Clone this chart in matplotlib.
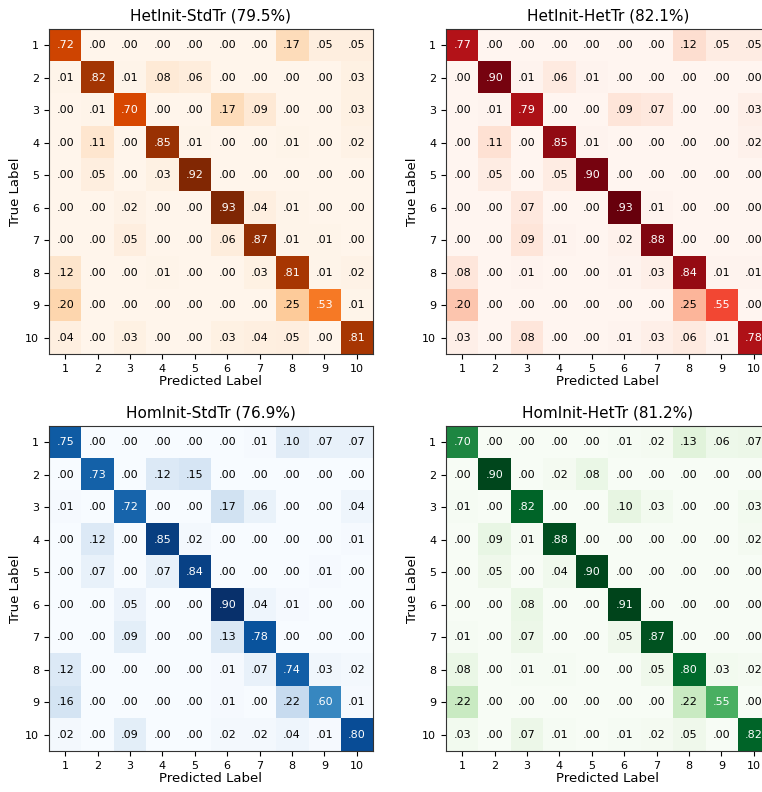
import numpy as np
import matplotlib
matplotlib.use("Agg")
import matplotlib.pyplot as plt

# class labels
classes = [str(i) for i in range(1, 11)]

# panel titles
titles = ["HetInit-StdTr (79.5%)", "HetInit-HetTr (82.1%)",
          "HomInit-StdTr (76.9%)", "HomInit-HetTr (81.2%)"]
cmaps = ["Oranges", "Reds", "Blues", "Greens"]

# normalised confusion matrices (rows = true, cols = predicted)
het_std = [
    [.72, .00, .00, .00, .00, .00, .00, .17, .05, .05],
    [.01, .82, .01, .08, .06, .00, .00, .00, .00, .03],
    [.00, .01, .70, .00, .00, .17, .09, .00, .00, .03],
    [.00, .11, .00, .85, .01, .00, .00, .01, .00, .02],
    [.00, .05, .00, .03, .92, .00, .00, .00, .00, .00],
    [.00, .00, .02, .00, .00, .93, .04, .01, .00, .00],
    [.00, .00, .05, .00, .00, .06, .87, .01, .01, .00],
    [.12, .00, .00, .01, .00, .00, .03, .81, .01, .02],
    [.20, .00, .00, .00, .00, .00, .00, .25, .53, .01],
    [.04, .00, .03, .00, .00, .03, .04, .05, .00, .81],
]
het_het = [
    [.77, .00, .00, .00, .00, .00, .00, .12, .05, .05],
    [.00, .90, .01, .06, .01, .00, .00, .00, .00, .00],
    [.00, .01, .79, .00, .00, .09, .07, .00, .00, .03],
    [.00, .11, .00, .85, .01, .00, .00, .00, .00, .02],
    [.00, .05, .00, .05, .90, .00, .00, .00, .00, .00],
    [.00, .00, .07, .00, .00, .93, .01, .00, .00, .00],
    [.00, .00, .09, .01, .00, .02, .88, .00, .00, .00],
    [.08, .00, .01, .00, .00, .01, .03, .84, .01, .01],
    [.20, .00, .00, .00, .00, .00, .00, .25, .55, .00],
    [.03, .00, .08, .00, .00, .01, .03, .06, .01, .78],
]
hom_std = [
    [.75, .00, .00, .00, .00, .00, .01, .10, .07, .07],
    [.00, .73, .00, .12, .15, .00, .00, .00, .00, .00],
    [.01, .00, .72, .00, .00, .17, .06, .00, .00, .04],
    [.00, .12, .00, .85, .02, .00, .00, .00, .00, .01],
    [.00, .07, .00, .07, .84, .00, .00, .00, .01, .00],
    [.00, .00, .05, .00, .00, .90, .04, .01, .00, .00],
    [.00, .00, .09, .00, .00, .13, .78, .00, .00, .00],
    [.12, .00, .00, .00, .00, .01, .07, .74, .03, .02],
    [.16, .00, .00, .00, .00, .01, .00, .22, .60, .01],
    [.02, .00, .09, .00, .00, .02, .02, .04, .01, .80],
]
hom_het = [
    [.70, .00, .00, .00, .00, .01, .02, .13, .06, .07],
    [.00, .90, .00, .02, .08, .00, .00, .00, .00, .00],
    [.01, .00, .82, .00, .00, .10, .03, .00, .00, .03],
    [.00, .09, .01, .88, .00, .00, .00, .00, .00, .02],
    [.00, .05, .00, .04, .90, .00, .00, .00, .00, .00],
    [.00, .00, .08, .00, .00, .91, .00, .00, .00, .00],
    [.01, .00, .07, .00, .00, .05, .87, .00, .00, .00],
    [.08, .00, .01, .01, .00, .00, .05, .80, .03, .02],
    [.22, .00, .00, .00, .00, .00, .00, .22, .55, .00],
    [.03, .00, .07, .01, .00, .01, .02, .05, .00, .82],
]
matrices = [het_std, het_het, hom_std, hom_het]

fig = plt.figure(figsize=(7.62, 7.92), dpi=100)
# axes positions in figure fractions (right column runs off the edge, as in the source)
positions = [
    [0.0643, 0.553, 0.4252, 0.4104],
    [0.5853, 0.553, 0.4252, 0.4104],
    [0.0643, 0.0518, 0.4252, 0.4104],
    [0.5853, 0.0518, 0.4252, 0.4104],
]

for pos, cm, title, cmap in zip(positions, matrices, titles, cmaps):
    cm = np.array(cm)
    ax = fig.add_axes(pos)
    ax.imshow(cm, interpolation="nearest", cmap=cmap, aspect="auto")
    ax.set_title(title, fontsize=11)
    ax.set_xticks(np.arange(len(classes)))
    ax.set_yticks(np.arange(len(classes)))
    ax.set_xticklabels(classes, fontsize=8)
    ax.set_yticklabels(classes, fontsize=8)
    ax.set_xlabel("Predicted Label", fontsize=9.5, labelpad=1)
    ax.set_ylabel("True Label", fontsize=9.5, labelpad=2)
    thresh = cm.max() / 2.0
    for i in range(cm.shape[0]):
        for j in range(cm.shape[1]):
            txt = ("%.2f" % cm[i, j]).lstrip("0")
            ax.text(j, i, txt, ha="center", va="center", fontsize=8,
                    color="white" if cm[i, j] > thresh else "black")
    for s in ax.spines.values():
        s.set_color("#333333")

fig.savefig("out.png", dpi=100)
